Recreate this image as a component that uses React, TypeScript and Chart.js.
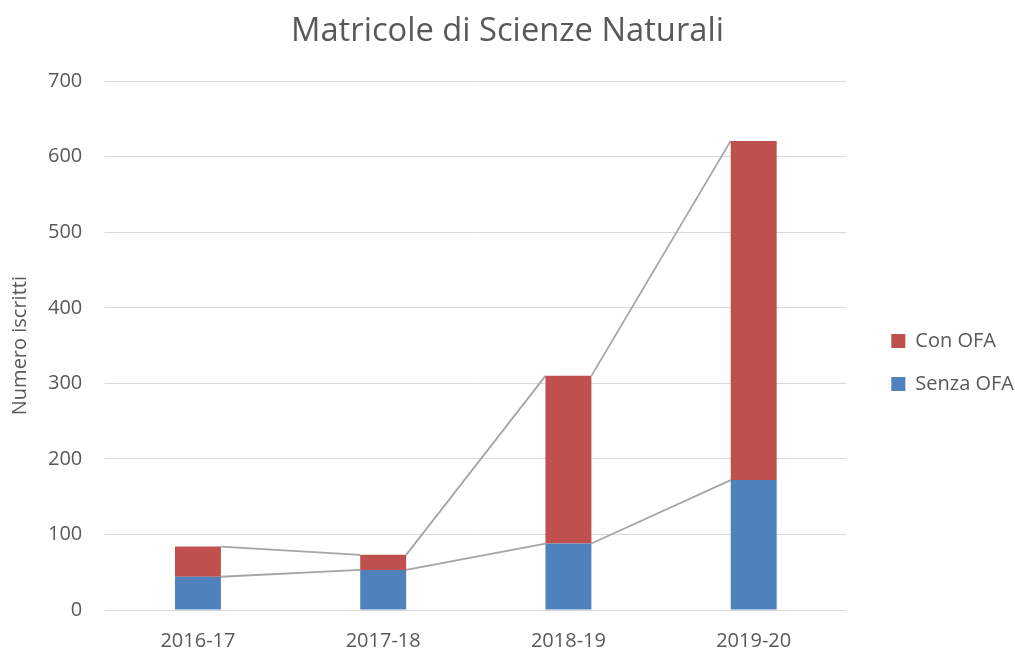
import React, { useEffect, useRef } from "react";
import { Chart, registerables } from "chart.js";

Chart.register(...registerables);

const categories = ["2016-17", "2017-18", "2018-19", "2019-20"];
const senzaOFA = [44, 53, 88, 172];
const conOFA = [40, 20, 222, 449];
const yTicks = [0, 100, 200, 300, 400, 500, 600, 700];

const FONT = "'Open Sans', 'Liberation Sans', sans-serif";
const TEXT = "#595959";

const seriesLines = {
  id: "seriesLines",
  beforeDatasetsDraw(chart: any) {
    const ctx = chart.ctx;
    ctx.save();
    ctx.strokeStyle = "#A5A5A5";
    ctx.lineWidth = 1.8;
    chart.data.datasets.forEach((_ds: any, di: number) => {
      const meta = chart.getDatasetMeta(di);
      if (meta.hidden) return;
      const els = meta.data;
      for (let i = 0; i < els.length - 1; i++) {
        const a = els[i];
        const b = els[i + 1];
        ctx.beginPath();
        ctx.moveTo(a.x + a.width / 2, a.y);
        ctx.lineTo(b.x - b.width / 2, b.y);
        ctx.stroke();
      }
    });
    ctx.restore();
  },
};

const LEGEND_EXTRA_W = 13;
const LEGEND_SHIFT_X = 22;
const LEGEND_SHIFT_Y = 37;
const legendShift = {
  id: "legendShift",
  beforeLayout(chart: any) {
    const lg = chart.legend;
    if (lg && !lg.__patched) {
      const origFit = lg.fit;
      lg.fit = function () {
        origFit.call(this);
        this.width += LEGEND_EXTRA_W;
      };
      lg.__patched = true;
    }
  },
  afterLayout(chart: any) {
    const lg = chart.legend;
    if (lg) {
      lg.left += LEGEND_SHIFT_X;
      lg.right += LEGEND_SHIFT_X;
      lg.top += LEGEND_SHIFT_Y;
      lg.bottom += LEGEND_SHIFT_Y;
    }
  },
};

export default function App() {
  const ref = useRef<HTMLCanvasElement>(null);
  useEffect(() => {
    if (!ref.current) return;
    const chart = new Chart(ref.current, {
      type: "bar",
      data: {
        labels: categories,
        datasets: [
          { label: "Senza OFA", data: senzaOFA, backgroundColor: "#4F81BD" },
          { label: "Con OFA", data: conOFA, backgroundColor: "#C0504D" },
        ],
      },
      options: {
        animation: false,
        responsive: true,
        maintainAspectRatio: false,
        layout: { padding: 0 },
        datasets: { bar: { categoryPercentage: 0.248, barPercentage: 1 } },
        scales: {
          x: {
            stacked: true,
            grid: { display: false, drawTicks: false },
            border: { display: false },
            ticks: { color: TEXT, font: { family: FONT, size: 20 }, padding: 19 },
            afterFit(scale: any) {
              scale.height -= 21;
            },
          },
          y: {
            stacked: true,
            min: 0,
            max: 700,
            afterBuildTicks(scale: any) {
              scale.ticks = yTicks.map((v) => ({ value: v }));
            },
            afterFit(scale: any) {
              scale.width -= 7;
            },
            grid: { color: "#D9D9D9", lineWidth: 1, drawTicks: false },
            border: { display: false },
            ticks: { color: TEXT, font: { family: FONT, size: 20 }, padding: 23 },
            title: {
              display: true,
              text: "Numero iscritti",
              color: TEXT,
              font: { family: FONT, size: 20 },
              padding: { top: 8, bottom: 0 },
            },
          },
        },
        plugins: {
          title: {
            display: true,
            text: "Matricole di Scienze Naturali",
            color: TEXT,
            font: { family: FONT, size: 32.7, weight: "normal" },
            padding: { top: 12, bottom: 30 },
          },
          legend: {
            position: "right",
            reverse: true,
            labels: {
              color: TEXT,
              font: { family: FONT, size: 20 },
              boxWidth: 14,
              boxHeight: 14,
              padding: 23,
            },
          },
          tooltip: { enabled: false },
        },
      },
      plugins: [seriesLines, legendShift],
    });
    return () => chart.destroy();
  }, []);
  return (
    <div style={{ position: "fixed", left: 0, top: 0, width: 1015, height: 651, background: "#fff" }}>
      <canvas ref={ref} />
    </div>
  );
}
